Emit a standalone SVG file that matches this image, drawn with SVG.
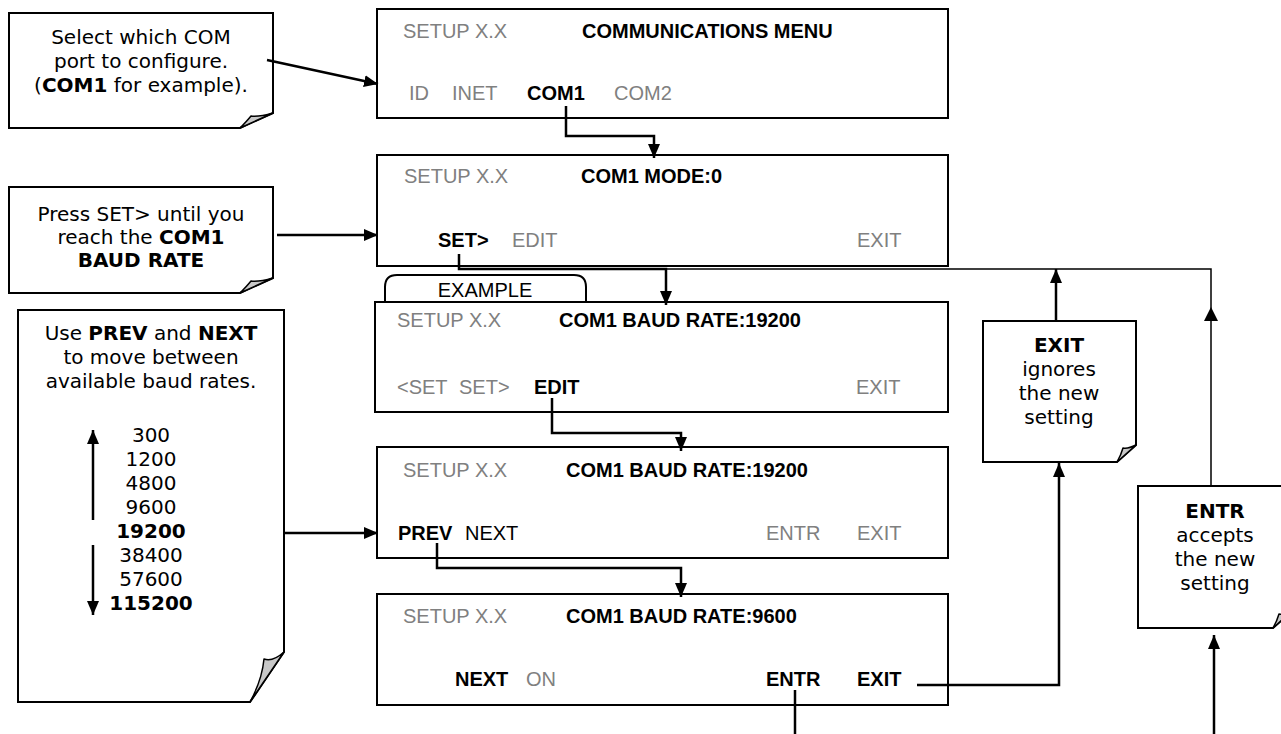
<svg xmlns="http://www.w3.org/2000/svg" width="1281" height="734" viewBox="0 0 1281 734">
<style>
.box{fill:#fff;stroke:#000;stroke-width:2}
.fold{fill:#c8c8c8;stroke:#000;stroke-width:1.5;stroke-linejoin:round}
.note{font-family:"DejaVu Sans",Verdana,sans-serif;font-size:20px;fill:#000;text-anchor:middle}
.scr{font-family:"Liberation Sans",Arial,sans-serif;font-size:20px}
.g{fill:#808080}
.k{fill:#000}
.b{font-weight:bold}
.con{fill:none;stroke:#000;stroke-width:2.5}
.thin{fill:none;stroke:#000;stroke-width:1.5}
</style>
<defs>
<marker id="ah" viewBox="0 0 14 12" refX="14" refY="6" markerWidth="14" markerHeight="12" orient="auto" markerUnits="userSpaceOnUse">
<path d="M0,0 L14,6 L0,12 Z" fill="#000"/>
</marker>
</defs>

<g id="callout1">
<path class="box" d="M9,13 H273 V113 L240,128 H9 Z"/>
<path class="fold" d="M240,128 L273,113 Q259,117 251,116 Q247,121 240,128 Z"/>
<text class="note" x="141" y="44">Select which COM</text>
<text class="note" x="141" y="68">port to configure.</text>
<text class="note" x="141" y="92">(<tspan font-weight="bold">COM1</tspan> for example).</text>
</g>

<g id="callout2">
<path class="box" d="M9,187 H273 V278 L240,293 H9 Z"/>
<path class="fold" d="M240,293 L273,278 Q259,282 251,281 Q247,286 240,293 Z"/>
<text class="note" x="141" y="221">Press SET&gt; until you</text>
<text class="note" x="141" y="244">reach the <tspan font-weight="bold">COM1</tspan></text>
<text class="note" x="141" y="267" font-weight="bold">BAUD RATE</text>
</g>

<g id="callout3">
<path class="box" d="M18,310 H284 V652 L250,702 H18 Z"/>
<path class="fold" d="M250,702 L284,652 Q273,662 264,659 Q262,680 250,702 Z"/>
<text class="note" x="151" y="340">Use <tspan font-weight="bold">PREV</tspan> and <tspan font-weight="bold">NEXT</tspan></text>
<text class="note" x="151" y="364">to move between</text>
<text class="note" x="151" y="388">available baud rates.</text>
<text class="note" x="151" y="442">300</text>
<text class="note" x="151" y="466">1200</text>
<text class="note" x="151" y="490">4800</text>
<text class="note" x="151" y="514">9600</text>
<text class="note" x="151" y="538" font-weight="bold">19200</text>
<text class="note" x="151" y="562">38400</text>
<text class="note" x="151" y="586">57600</text>
<text class="note" x="151" y="610" font-weight="bold">115200</text>
<line x1="93" y1="520" x2="93" y2="430" class="con" marker-end="url(#ah)"/>
<line x1="93" y1="545" x2="93" y2="615" class="con" marker-end="url(#ah)"/>
</g>

<g id="screen1">
<rect class="box" x="377" y="9" width="571" height="109"/>
<text class="scr g" x="403" y="38">SETUP X.X</text>
<text class="scr k b" x="582" y="38">COMMUNICATIONS MENU</text>
<text class="scr g" x="409" y="100">ID</text>
<text class="scr g" x="452" y="100">INET</text>
<text class="scr k b" x="527" y="100">COM1</text>
<text class="scr g" x="614" y="100">COM2</text>
</g>

<g id="screen2">
<rect class="box" x="377" y="155" width="571" height="111"/>
<text class="scr g" x="404" y="183">SETUP X.X</text>
<text class="scr k b" x="581" y="183">COM1 MODE:0</text>
<text class="scr k b" x="438" y="247">SET&gt;</text>
<text class="scr g" x="512" y="247">EDIT</text>
<text class="scr g" x="857" y="247">EXIT</text>
</g>

<g id="screen3">
<path class="box" d="M385,302 V287 Q385,275 397,275 H574 Q586,275 586,287 V302"/>
<text class="scr k" x="485" y="297" font-size="17" text-anchor="middle">EXAMPLE</text>
<rect class="box" x="375" y="302" width="573" height="110"/>
<text class="scr g" x="397" y="327">SETUP X.X</text>
<text class="scr k b" x="559" y="327">COM1 BAUD RATE:19200</text>
<text class="scr g" x="397" y="394">&lt;SET</text>
<text class="scr g" x="459" y="394">SET&gt;</text>
<text class="scr k b" x="534" y="394">EDIT</text>
<text class="scr g" x="856" y="394">EXIT</text>
</g>

<g id="screen4">
<rect class="box" x="377" y="447" width="571" height="111"/>
<text class="scr g" x="403" y="477">SETUP X.X</text>
<text class="scr k b" x="566" y="477">COM1 BAUD RATE:19200</text>
<text class="scr k b" x="398" y="540">PREV</text>
<text class="scr k" x="465" y="540">NEXT</text>
<text class="scr g" x="766" y="540">ENTR</text>
<text class="scr g" x="857" y="540">EXIT</text>
</g>

<g id="screen5">
<rect class="box" x="377" y="594" width="571" height="111"/>
<text class="scr g" x="403" y="623">SETUP X.X</text>
<text class="scr k b" x="566" y="623">COM1 BAUD RATE:9600</text>
<text class="scr k b" x="455" y="686">NEXT</text>
<text class="scr g" x="526" y="686">ON</text>
<text class="scr k b" x="766" y="686">ENTR</text>
<text class="scr k b" x="857" y="686">EXIT</text>
</g>

<g id="note-exit">
<path class="box" d="M983,321 H1136 V445 L1117,462 H983 Z"/>
<path class="fold" d="M1117,462 L1136,445 Q1128,449 1123,448 Q1121,455 1117,462 Z"/>
<text class="note b" x="1059" y="352">EXIT</text>
<text class="note" x="1059" y="376">ignores</text>
<text class="note" x="1059" y="400">the new</text>
<text class="note" x="1059" y="424">setting</text>
</g>

<g id="note-entr">
<path class="box" d="M1138,486 H1292 V611 L1273,628 H1138 Z"/>
<path class="fold" d="M1273,628 L1292,611 Q1284,615 1279,614 Q1277,621 1273,628 Z"/>
<text class="note b" x="1215" y="518">ENTR</text>
<text class="note" x="1215" y="542">accepts</text>
<text class="note" x="1215" y="566">the new</text>
<text class="note" x="1215" y="590">setting</text>
</g>

<g id="connectors">
<line class="con" x1="267" y1="60" x2="378" y2="84" marker-end="url(#ah)"/>
<line class="con" x1="277" y1="235" x2="378" y2="235" marker-end="url(#ah)"/>
<line class="con" x1="284" y1="533" x2="378" y2="533" marker-end="url(#ah)"/>
<polyline class="con" points="566,106 566,136 654,136 654,158" marker-end="url(#ah)"/>
<polyline class="con" points="459,254 459,269 666,269 666,305" marker-end="url(#ah)"/>
<polyline class="thin" points="666,269 1211,269 1211,486"/>
<path d="M1211,307 L1204,321 L1218,321 Z" fill="#000"/>
<line class="con" x1="1056" y1="321" x2="1056" y2="269" marker-end="url(#ah)"/>
<polyline class="con" points="552,398 552,433 681,433 681,451" marker-end="url(#ah)"/>
<polyline class="con" points="437,543 437,568 681,568 681,597" marker-end="url(#ah)"/>
<polyline class="con" points="917,685 1059,685 1059,463" marker-end="url(#ah)"/>
<line class="con" x1="795" y1="690" x2="795" y2="734"/>
<line class="con" x1="1214" y1="734" x2="1214" y2="635" marker-end="url(#ah)"/>
</g>
</svg>
